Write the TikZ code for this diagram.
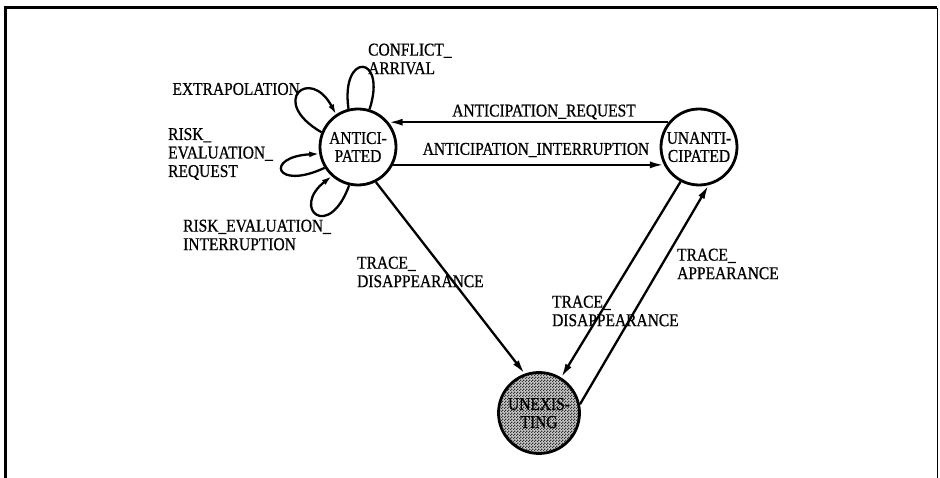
\documentclass[tikz,border=0pt]{standalone}
\usepackage{fontspec}
\setmainfont{Liberation Serif}[FakeStretch=0.86,FakeBold=0.7]
\usetikzlibrary{arrows.meta,patterns}
% fine checkerboard screen used for the shaded state
\pgfdeclarepatternformonly{finecheck}{\pgfpointorigin}{\pgfpoint{3pt}{3pt}}{\pgfpoint{3pt}{3pt}}{%
  \pgfpathrectangle{\pgfpointorigin}{\pgfpoint{1.5pt}{1.5pt}}%
  \pgfpathrectangle{\pgfpoint{1.5pt}{1.5pt}}{\pgfpoint{1.5pt}{1.5pt}}%
  \pgfusepath{fill}}
\begin{document}
\begin{tikzpicture}[x=1pt,y=1pt,
  state/.style={circle,draw,line width=2.8pt,minimum size=76pt,inner sep=0pt,
    align=center,font=\fontsize{18}{18}\selectfont},
  lbl/.style={inner sep=0pt,align=left,font=\fontsize{18}{18.5}\selectfont},
  tr/.style={line width=2.3pt,-{Latex[length=14pt,width=7pt]}},
  lp/.style={line width=2.3pt,-{Latex[length=10pt,width=6pt]}},
  lpn/.style={line width=2.3pt}]
\useasboundingbox (0,0) rectangle (940,478);
% frame
\draw[line width=3pt] (5,0) -- (5,470) -- (937,470);
\draw[line width=1pt] (937,470) -- (937,0);
% states
\node[state] (ant) at (358,331) {ANTICI-\\PATED};
\node[state] (unant) at (699,331) {UNANTI-\\CIPATED};
\fill[black!22] (539,65) circle (40pt);
\fill[pattern=finecheck,pattern color=black!80] (539,65) circle (40pt);
\node[state,minimum size=81pt] (unex) at (539,65) {UNEXIS-\\TING};
% transitions between states
\draw[tr] (unant.141) -- (ant.39);
\draw[tr] (ant.-27) -- (unant.207);
\draw[tr] (ant.-63) -- (unex.110);
\draw[tr] (unant.-118) -- (unex.58);
\draw[tr] (unex.12) -- (unant.-76);
% self loops
\draw[lpn] (ant.104) .. controls +(98:58) and +(72:58) .. (ant.73);
\draw[lp] (ant.158) .. controls +(150:62) and +(118:55) .. (ant.124);
\draw[lp] (ant.212) .. controls +(205:55) and +(183:55) .. (ant.190);
\draw[lp] (ant.257) .. controls +(250:60) and +(218:52) .. (ant.228);
% labels
\node[lbl,anchor=west] (l1) at (368,419) {CONFLICT\_\\ARRIVAL};
\node[lbl,anchor=east] (l2) at (300,389) {EXTRAPOLATION};
\node[lbl,anchor=west] (l3) at (168,324) {RISK\_\\EVALUATION\_\\REQUEST};
\node[lbl,anchor=west] (l4) at (183,243) {RISK\_EVALUATION\_\\INTERRUPTION};
\node[lbl] (l5) at (544,366) {ANTICIPATION\_REQUEST};
\node[lbl] (l6) at (536,328) {ANTICIPATION\_INTERRUPTION};
\node[lbl,anchor=west] (l7) at (357,206) {TRACE\_\\DISAPPEARANCE};
\node[lbl,anchor=west] (l8) at (552,167) {TRACE\_\\DISAPPEARANCE};
\node[lbl,anchor=west] (l9) at (677,214) {TRACE\_\\APPEARANCE};
\end{tikzpicture}
\end{document}
